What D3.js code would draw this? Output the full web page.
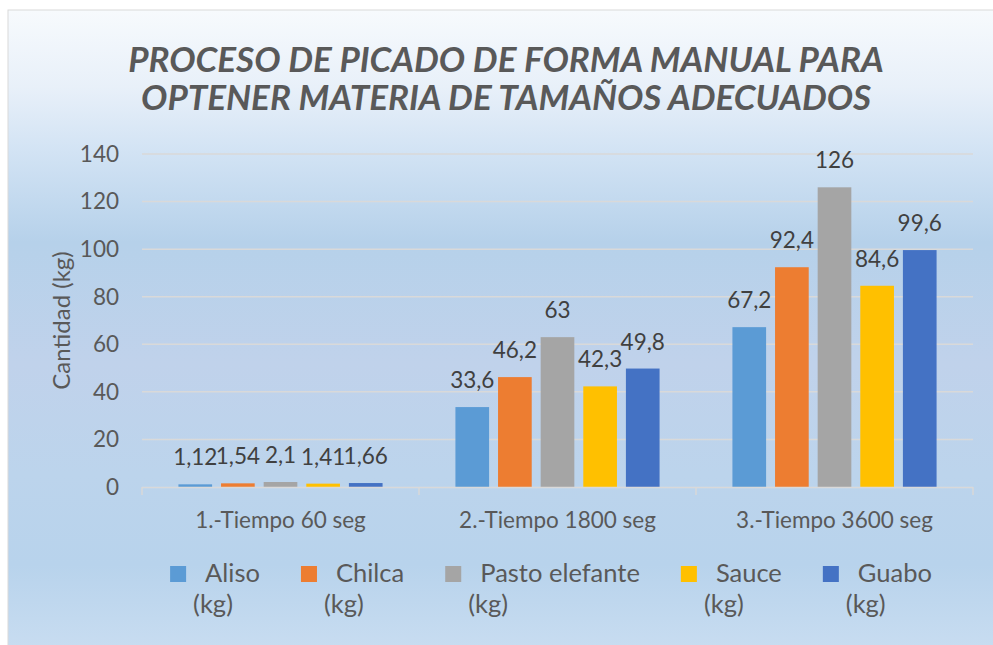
<!DOCTYPE html>
<html><head><meta charset="utf-8">
<script src="https://cdn.jsdelivr.net/npm/d3@7"></script>
<style>body{margin:0;background:#fff;}svg{display:block;}</style>
</head><body>
<svg id="c" width="993" height="645"></svg>
<script>
const categories = ["1.-Tiempo 60 seg", "2.-Tiempo 1800 seg", "3.-Tiempo 3600 seg"];
const seriesNames = ["Aliso", "Chilca", "Pasto elefante", "Sauce", "Guabo"];
const aliso = [1.12, 33.6, 67.2];
const chilca = [1.54, 46.2, 92.4];
const pastoElefante = [2.1, 63, 126];
const sauce = [1.41, 42.3, 84.6];
const guabo = [1.66, 49.8, 99.6];
const yTicks = [0, 20, 40, 60, 80, 100, 120, 140];
const colors = ["#5b9bd5", "#ed7d31", "#a5a5a5", "#ffc000", "#4472c4"];
const titleLines = ["PROCESO DE PICADO DE FORMA MANUAL PARA", "OPTENER MATERIA DE TAMAÑOS ADECUADOS"];
const yTitle = "Cantidad (kg)";

const seriesValues = [aliso, chilca, pastoElefante, sauce, guabo];
const svg = d3.select("#c");
const font = "Lato, 'Noto Sans', sans-serif";

// background
const defs = svg.append("defs");
const grad = defs.append("linearGradient").attr("id","bg").attr("x1",0).attr("y1",0).attr("x2",0).attr("y2",1);
[[0,"#f7fafd"],[0.12,"#e8f0f9"],[0.22,"#d2e3f4"],[0.36,"#b6d1ea"],[0.55,"#c0d2eb"],[0.72,"#bcd4ec"],[0.86,"#b8d3ec"],[1,"#c9ddf1"]]
  .forEach(([o,c])=>grad.append("stop").attr("offset",o).attr("stop-color",c));
svg.append("rect").attr("x",8).attr("y",10).attr("width",993).attr("height",645)
  .attr("fill","url(#bg)").attr("stroke","#d9d9d9").attr("stroke-width",1);

const m = {left:142, right:973, top:154, bottom:487};
const x0 = d3.scaleBand().domain(categories).range([m.left, m.right]).paddingInner(0.263).paddingOuter(0.1315);
const x1 = d3.scaleBand().domain(seriesNames).range([0, x0.bandwidth()]).paddingInner(0.21).paddingOuter(0);
const y = d3.scaleLinear().domain([0,140]).range([m.bottom, m.top]);

// gridlines
svg.append("g").selectAll("line").data(yTicks.filter(t=>t>0)).join("line")
  .attr("x1",m.left).attr("x2",m.right).attr("y1",d=>y(d)).attr("y2",d=>y(d))
  .attr("stroke","#d9d9d9").attr("stroke-width",1.5);

// y tick labels
svg.append("g").selectAll("text").data(yTicks).join("text")
  .attr("x",119).attr("y",d=>y(d)).attr("dy","0.35em").attr("text-anchor","end")
  .attr("font-family",font).attr("font-size",22.5).attr("fill","#595959").text(d=>d);

// y title
svg.append("text").attr("transform",`translate(70,${(m.top+m.bottom)/2}) rotate(-90)`)
  .attr("text-anchor","middle").attr("font-family",font).attr("font-size",24).attr("fill","#595959").text(yTitle);

// bars
const g = svg.append("g");
categories.forEach((cat,ci)=>{
  seriesNames.forEach((s,si)=>{
    const v = seriesValues[si][ci];
    g.append("rect").attr("x",x0(cat)+x1(s)).attr("width",x1.bandwidth())
      .attr("y",y(v)).attr("height",y(0)-y(v)).attr("fill",colors[si]);
    g.append("text").attr("x",x0(cat)+x1(s)+x1.bandwidth()/2).attr("y",y(v)-19)
      .attr("text-anchor","middle").attr("font-family",font).attr("font-size",22.5).attr("fill","#404040")
      .text(String(v).replace(".",","));
  });
});

// x axis
svg.append("line").attr("x1",m.left).attr("x2",m.right).attr("y1",m.bottom+0.5).attr("y2",m.bottom+0.5)
  .attr("stroke","#d9d9d9").attr("stroke-width",1.5);
const bounds = categories.map(c=>x0(c)-x0.step()*x0.paddingInner()/2).concat([m.right]);
svg.append("g").selectAll("line").data(bounds).join("line")
  .attr("x1",d=>d).attr("x2",d=>d).attr("y1",m.bottom).attr("y2",m.bottom+8)
  .attr("stroke","#d9d9d9").attr("stroke-width",1.5);
svg.append("g").selectAll("text").data(categories).join("text")
  .attr("x",d=>x0(d)+x0.bandwidth()/2).attr("y",528).attr("text-anchor","middle")
  .attr("font-family",font).attr("font-size",22.5).attr("fill","#595959").text(d=>d);

// title
svg.append("g").selectAll("text").data(titleLines).join("text")
  .attr("x",506).attr("y",(d,i)=>72+i*38).attr("text-anchor","middle")
  .attr("font-family",font).attr("font-weight","bold").attr("font-style","italic")
  .attr("font-size",35).attr("fill","#595959").text(d=>d);

// legend
const leg = svg.append("g");
let lx = 0;
const items = [];
seriesNames.forEach((s,i)=>{
  const it = leg.append("g");
  it.append("rect").attr("x",0).attr("y",566).attr("width",16).attr("height",16).attr("fill",colors[i]);
  const t = it.append("text").attr("x",35).attr("y",582).attr("font-family",font).attr("font-size",25.5).attr("fill","#595959").text(s);
  it.append("text").attr("x",23).attr("y",613).attr("font-family",font).attr("font-size",25.5).attr("fill","#595959").text("(kg)");
  const w = t.node().getComputedTextLength();
  items.push({it, x:lx});
  lx += 35 + w + 41;
});
const total = lx - 41;
const startX = 551 - total/2;
items.forEach(d=>d.it.attr("transform",`translate(${startX+d.x},0)`));
</script>
</body></html>
